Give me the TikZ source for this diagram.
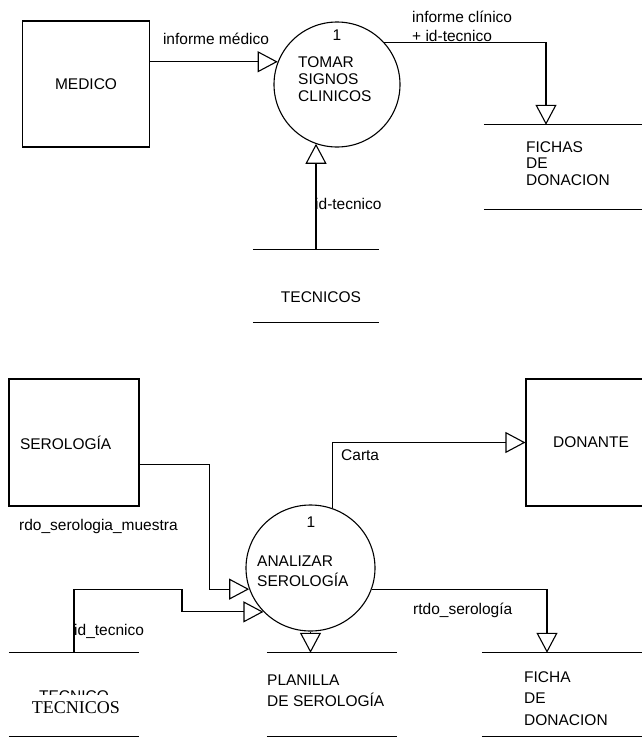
\documentclass[tikz,border=0pt]{standalone}
\usepackage{fontspec}
\setmainfont{Liberation Sans}
\newfontfamily\serifface{Liberation Serif}
\usetikzlibrary{arrows.meta,shapes.geometric}

\begin{document}
\begin{tikzpicture}[
    x=1pt, y=-1pt,
    font=\fontsize{15.5}{18}\selectfont,
    flow/.style={line width=1.1pt, -{Triangle[open, length=20pt, width=21pt]}},
    entity/.style={draw, line width=1.1pt, rectangle, inner sep=0pt},
    process/.style={draw, line width=1.1pt, ellipse, inner sep=0pt},
    datastore/.style={rectangle, inner sep=0pt,
        append after command={
            (\tikzlastnode.north west) edge[line width=1.1pt] (\tikzlastnode.north east)
            (\tikzlastnode.south west) edge[line width=1.1pt] (\tikzlastnode.south east)}},
    txt/.style={inner sep=0pt, align=left}
]

\useasboundingbox (0,0) rectangle (642,737);
\clip (0,0) rectangle (642,737);

% ==========================================
% 1. TOMAR SIGNOS CLINICOS
% ==========================================

\node[entity, minimum width=126.5pt, minimum height=126pt] (medico) at (86,84) {MEDICO};

\node[process, minimum width=126pt, minimum height=125pt] (tomar) at (337,84.5) {};
\node[txt] (tomar-num) at (337,35) {1};
\node[txt, anchor=west, font=\fontsize{15.5}{17}\selectfont] (tomar-txt) at (298,79) {TOMAR\\SIGNOS\\CLINICOS};

\node[datastore, minimum width=166pt, minimum height=84pt] (fichas) at (567,167) {};
\node[txt, anchor=west, font=\fontsize{15.5}{16.5}\selectfont] (fichas-txt) at (526,163.5) {FICHAS\\DE\\DONACION};

\node[datastore, minimum width=126pt, minimum height=72pt] (tecnicos) at (316,286) {};
\node[txt] (tecnicos-txt) at (321,297) {TECNICOS};

% flows
\draw[flow] (medico.east |- tomar.159) -- (tomar.159);
\draw[flow] (tomar.42) -| ([xshift=-21pt]fichas.north);
\draw[flow] (tecnicos.north) -- (tecnicos.north |- tomar.250);

\node[txt] (lbl-medico) at (216,39) {informe médico};
\node[txt, anchor=west, font=\fontsize{15.5}{19}\selectfont] (lbl-clinico) at (412,26.5) {informe clínico\\+ id-tecnico};
\node[txt, anchor=west] (lbl-idtec) at (315,204) {id-tecnico};

% ==========================================
% 2. ANALIZAR SEROLOGIA
% ==========================================

\node[entity, minimum width=130pt, minimum height=127pt, text width=108pt] (serologia) at (74,442.5) {SEROLOGÍA};
\node[entity, minimum width=130pt, minimum height=127pt] (donante) at (591,442.5) {DONANTE};

\node[process, minimum width=129pt, minimum height=126pt] (analizar) at (310.5,568) {};
\node[txt] (analizar-num) at (311,522) {1};
\node[txt, anchor=west, font=\fontsize{15.5}{20}\selectfont] (analizar-txt) at (257,571) {ANALIZAR\\SEROLOGÍA};

\node[datastore, minimum width=130pt, minimum height=83.5pt] (tecnicoB) at (74,694.75) {};
\node[datastore, minimum width=130pt, minimum height=83.5pt] (planilla) at (332,694.75) {};
\node[datastore, minimum width=168pt, minimum height=83.5pt] (ficha) at (566,694.75) {};

% store names
\begin{scope}
    \clip (0,680) rectangle (200,694);
    \node[txt, anchor=base] (tecnico-cut) at (74,701) {TECNICO};
\end{scope}
\node[txt, font=\serifface\fontsize{18}{20}\selectfont] (tecnicoB-txt) at (76,708) {TECNICOS};
\node[txt, anchor=west, font=\fontsize{15.5}{21}\selectfont] (planilla-txt) at (267,690.5) {PLANILLA\\DE SEROLOGÍA};
\node[txt, anchor=west, font=\fontsize{15.5}{21.5}\selectfont] (ficha-txt) at (524,698.5) {FICHA\\DE\\DONACION};

% flows
\draw[flow] ([yshift=-22pt]serologia.east) -- ++(70,0) |- (analizar.199);
\draw[flow] (tecnicoB.north) -- ++(0,-63) -- ++(108,0) |- (analizar.223);
\draw[flow] (analizar.70) |- (donante.west);
\draw[flow] (analizar.south) -- (analizar.south |- planilla.north);
\draw[flow] (analizar.341) -| ([xshift=-19pt]ficha.north);

\node[txt, anchor=west] (lbl-carta) at (341,455) {Carta};
\node[txt, anchor=west] (lbl-rdo) at (19,526) {rdo\_serologia\_muestra};
\node[txt, anchor=west] (lbl-idtec2) at (74,631) {id\_tecnico};
\node[txt, anchor=west] (lbl-rtdo) at (413,610) {rtdo\_serología};

\end{tikzpicture}
\end{document}
